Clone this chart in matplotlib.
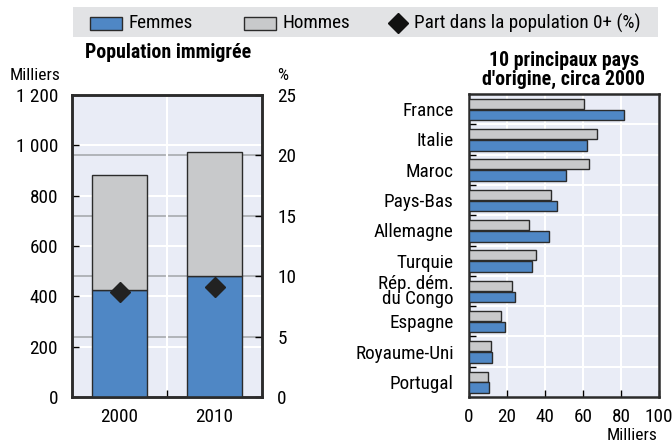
import numpy as np
import matplotlib
matplotlib.use("Agg")
import matplotlib.pyplot as plt
from matplotlib.patches import Rectangle
from matplotlib.lines import Line2D

plt.rcParams['font.family'] = ['Roboto Condensed', 'Archivo Narrow', 'PT Sans Narrow',
                               'Liberation Sans', 'DejaVu Sans']

# Data: population immigrée (milliers)
years = ["2000", "2010"]
femmes = [425, 482]
hommes = [457, 493]
part_pct = [8.7, 9.1]

# Top 10 pays d'origine, circa 2000 (milliers)
pays = ["France", "Italie", "Maroc", "Pays-Bas", "Allemagne", "Turquie",
        "Rép. dém.\ndu Congo", "Espagne", "Royaume-Uni", "Portugal"]
pays_hommes = [60.4, 67.5, 63.0, 43.0, 31.8, 35.4, 22.8, 16.7, 11.8, 9.8]
pays_femmes = [81.4, 62.1, 50.9, 46.5, 42.1, 33.0, 24.0, 19.1, 12.1, 10.5]

left_ticks = [0, 200, 400, 600, 800, 1000, 1200]
right_ticks = [0, 5, 10, 15, 20, 25]
x_ticks = [0, 20, 40, 60, 80, 100]

BLUE = '#4f87c5'
GREY = '#c8c9cb'
BG = '#e9ecf6'
EDGE = '#2b2b2b'
GRIDGREY = '#a8aaae'
FS = 13.8
FS_TITLE = 14.3
FS_SMALL = 12.5

W, H = 672, 443
fig = plt.figure(figsize=(W / 100, H / 100), dpi=100)


def px_axes(x0, y0, x1, y1):
    return fig.add_axes([x0 / W, 1 - y1 / H, (x1 - x0) / W, (y1 - y0) / H])


def fx(x):
    return x / W


def fy(y):
    return 1 - y / H


# ---------------- Left panel ----------------
ax = px_axes(72, 95, 262, 397)
ax.set_facecolor(BG)
xpos = np.arange(len(years))
ax.bar(xpos, femmes, width=0.57, color=BLUE, edgecolor=EDGE, linewidth=1, zorder=3)
ax.bar(xpos, hommes, bottom=femmes, width=0.57, color=GREY, edgecolor=EDGE,
       linewidth=1, zorder=3)
ax.set_xlim(-0.5, 1.5)
ax.set_ylim(0, 1200)
ax.set_yticks(left_ticks)
ax.set_yticklabels([f"{v:,}".replace(",", " ") for v in left_ticks])
for v in left_ticks[1:-1]:
    ax.axhline(v, color='white', lw=1.5, zorder=1)
# grey gridlines for the right (%) axis, drawn in left-axis units
for v in right_ticks[1:-1]:
    ax.axhline(v * 1200 / 25, color=GRIDGREY, lw=1.2, zorder=1)
ax.axvline(0.5, color='white', lw=1.5, zorder=1)
ax.set_xticks([0.5], minor=True)
ax.set_xticks(xpos)
ax.set_xticklabels(years)
ax.tick_params(axis='x', which='major', length=0, pad=8, labelsize=FS)
ax.tick_params(axis='x', which='minor', direction='in', length=5, width=1)
ax.tick_params(axis='y', direction='in', length=5, width=1, pad=10, labelsize=FS)
for s in ax.spines.values():
    s.set_linewidth(1.8)
    s.set_color(EDGE)

ax2 = ax.twinx()
ax2.set_ylim(0, 25)
ax2.set_yticks(right_ticks)
ax2.plot(xpos, part_pct, linestyle='none', marker='D', ms=10, color='#222222',
         zorder=5)
ax2.tick_params(axis='y', direction='in', length=5, width=1, pad=11, labelsize=FS)
for s in ax2.spines.values():
    s.set_linewidth(1.8)
    s.set_color(EDGE)

fig.text(fx(168), fy(53), "Population immigrée", ha='center', va='center',
         fontsize=FS_TITLE, fontweight='bold')
fig.text(fx(35), fy(75), "Milliers", ha='center', va='center', fontsize=FS_SMALL)
fig.text(fx(283), fy(75), "%", ha='center', va='center', fontsize=FS_SMALL)

# ---------------- Right panel ----------------
bx = px_axes(469, 94, 659, 397)
bx.set_facecolor(BG)
ypos = np.arange(len(pays))[::-1]
bx.barh(ypos + 0.01, pays_hommes, height=0.33, align='edge', color=GREY,
        edgecolor=EDGE, linewidth=1, zorder=3)
bx.barh(ypos - 0.37, pays_femmes, height=0.35, align='edge', color=BLUE,
        edgecolor=EDGE, linewidth=1, zorder=3)
bx.set_xlim(0, 100)
bx.set_ylim(-0.5, len(pays) - 0.5)
bx.set_xticks(x_ticks)
for v in x_ticks[1:-1]:
    bx.axvline(v, color='white', lw=1.5, zorder=1)
for b in np.arange(len(pays) - 1) + 0.5:
    bx.axhline(b, color='white', lw=1.5, zorder=1)
bx.set_yticks(ypos)
bx.set_yticklabels(pays, linespacing=0.8)
bx.set_yticks(np.arange(len(pays) - 1) + 0.5, minor=True)
bx.tick_params(axis='y', which='major', length=0, pad=11, labelsize=FS)
bx.tick_params(axis='y', which='minor', direction='in', length=5, width=1)
bx.tick_params(axis='x', direction='in', length=5, width=1, pad=8, labelsize=FS)
for s in bx.spines.values():
    s.set_linewidth(1.8)
    s.set_color(EDGE)

fig.text(fx(564), fy(70), "10 principaux pays\nd'origine, circa 2000",
         ha='center', va='center', fontsize=FS_TITLE, fontweight='bold',
         linespacing=1.05)
fig.text(fx(658), fy(440), "Milliers", ha='right', va='baseline', fontsize=FS_SMALL)

# ---------------- Legend (drawn by hand, in figure pixels) ----------------
fig.add_artist(Rectangle((fx(73), fy(37)), 585 / W, 30 / H,
                         transform=fig.transFigure, facecolor='#e2e3e5',
                         edgecolor='none', zorder=0))
legend_items = [
    ("patch", BLUE, 90, "Femmes", 128),
    ("patch", GREY, 244, "Hommes", 283),
    ("marker", '#111111', 398, "Part dans la population 0+ (%)", 414),
]
for kind, color, x0, label, tx in legend_items:
    if kind == "patch":
        fig.add_artist(Rectangle((fx(x0), fy(30)), 32 / W, 13 / H,
                                 transform=fig.transFigure, facecolor=color,
                                 edgecolor=EDGE, linewidth=1))
    else:
        fig.add_artist(Line2D([fx(x0)], [fy(23)], transform=fig.transFigure,
                              linestyle='none', marker='D', ms=10, color=color))
    fig.text(fx(tx), fy(23), label, ha='left', va='center', fontsize=FS)

fig.savefig("out.png", dpi=100)
